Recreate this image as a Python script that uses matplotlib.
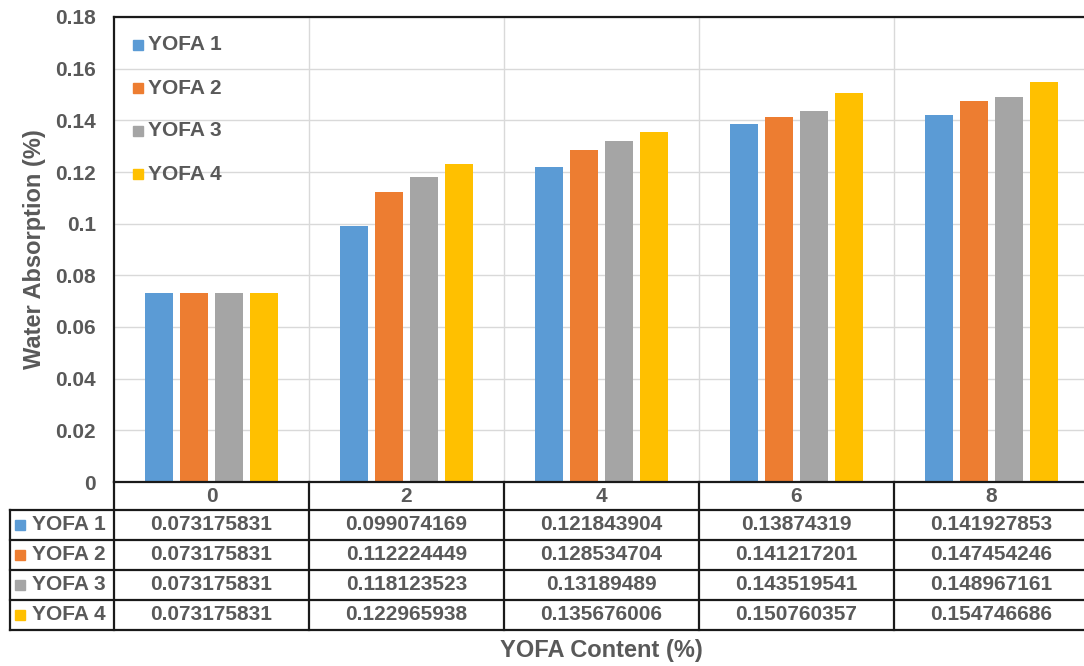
import matplotlib.pyplot as plt
from matplotlib.patches import Rectangle
from matplotlib.lines import Line2D
from matplotlib import transforms
import numpy as np

# Données : absorption d'eau selon la teneur en YOFA
contenus = ["0", "2", "4", "6", "8"]
series = ["YOFA 1", "YOFA 2", "YOFA 3", "YOFA 4"]
yofa_1 = [0.073175831, 0.099074169, 0.121843904, 0.13874319, 0.141927853]
yofa_2 = [0.073175831, 0.112224449, 0.128534704, 0.141217201, 0.147454246]
yofa_3 = [0.073175831, 0.118123523, 0.13189489, 0.143519541, 0.148967161]
yofa_4 = [0.073175831, 0.122965938, 0.135676006, 0.150760357, 0.154746686]
valeurs = [yofa_1, yofa_2, yofa_3, yofa_4]
graduations_y = [0, 0.02, 0.04, 0.06, 0.08, 0.1, 0.12, 0.14, 0.16, 0.18]

couleurs = ["#5B9BD5", "#ED7D31", "#A5A5A5", "#FFC000"]
gris_texte = "#595959"
plt.rcParams['font.family'] = ['Liberation Sans', 'DejaVu Sans']
plt.rcParams['font.weight'] = 'bold'

W, H = 1084, 666
fig = plt.figure(figsize=(W / 100, H / 100), dpi=100)


def fx(px):
    return px / W


def fy(py):
    return 1 - py / H


# zone du graphique (en pixels)
gauche, droite = 114, 1089
haut, bas = 17, 482
ax = fig.add_axes([fx(gauche), fy(bas), fx(droite) - fx(gauche), fy(haut) - fy(bas)])

x = np.arange(len(contenus))
largeur = 0.144
pas = 0.18
for k, (nom, vals) in enumerate(zip(series, valeurs)):
    ax.bar(x + (k - 1.5) * pas, vals, width=largeur, color=couleurs[k], zorder=3)

ax.set_xlim(-0.5, len(contenus) - 0.5)
ax.set_ylim(0, 0.18)
ax.set_yticks(graduations_y)
ax.set_yticklabels([f"{v:g}" for v in graduations_y])
ax.tick_params(axis='y', length=0, pad=13, labelsize=15, labelcolor=gris_texte)
ax.set_xticks([])
ax.yaxis.grid(True, color="#D9D9D9", lw=1, zorder=0)
for b in x[:-1] + 0.5:
    ax.axvline(b, color="#D9D9D9", lw=1, zorder=0)
for s in ["top", "left"]:
    ax.spines[s].set_linewidth(1.6)
    ax.spines[s].set_color("#1a1a1a")
ax.spines["bottom"].set_visible(False)
ax.spines["right"].set_visible(False)

# légende dans le graphique
for k, nom in enumerate(series):
    yc = 45 + k * 43
    fig.patches.append(Rectangle((fx(133), fy(yc + 5)), fx(10), 10 / H,
                                 transform=fig.transFigure, color=couleurs[k]))
    fig.text(fx(148), fy(yc), nom, fontsize=15, color=gris_texte, va='center', ha='left')

# tableau de données sous le graphique
mix = transforms.blended_transform_factory(ax.transData, fig.transFigure)
lignes_y = [482, 510, 540, 570, 600, 630]
noir = "#1a1a1a"


def trait(xs, ys, transform):
    fig.add_artist(Line2D(xs, ys, transform=transform, color=noir, lw=1.6))


# traits horizontaux
trait([fx(gauche), fx(droite)], [fy(482), fy(482)], fig.transFigure)
for ly in lignes_y[1:]:
    trait([fx(10), fx(droite)], [fy(ly), fy(ly)], fig.transFigure)
# traits verticaux
trait([fx(10), fx(10)], [fy(510), fy(630)], fig.transFigure)
trait([fx(gauche), fx(gauche)], [fy(482), fy(630)], fig.transFigure)
for b in x[:-1] + 0.5:
    trait([b, b], [fy(482), fy(630)], mix)

# en-têtes des colonnes
for i, c in enumerate(contenus):
    fig.text(x[i], fy(496), c, transform=mix, fontsize=15, color=gris_texte,
             ha='center', va='center')

# lignes des séries
for k, (nom, vals) in enumerate(zip(series, valeurs)):
    yc = (lignes_y[k + 1] + lignes_y[k + 2]) / 2
    fig.patches.append(Rectangle((fx(15), fy(yc + 5)), fx(10), 10 / H,
                                 transform=fig.transFigure, color=couleurs[k]))
    fig.text(fx(32), fy(yc), nom, fontsize=15, color=gris_texte, va='center', ha='left')
    for i, v in enumerate(vals):
        texte = f"{v:.9f}".rstrip('0')
        fig.text(x[i], fy(yc), texte, transform=mix, fontsize=15, color=gris_texte,
                 ha='center', va='center')

# titres des axes
fig.text(fx(35), fy((haut + bas) / 2), "Water Absorption (%)", rotation=90,
         fontsize=17, color=gris_texte, ha='center', va='center')
fig.text(fx((gauche + droite) / 2), fy(650), "YOFA Content (%)",
         fontsize=17, color=gris_texte, ha='center', va='center')

fig.savefig("out.png", dpi=100)
